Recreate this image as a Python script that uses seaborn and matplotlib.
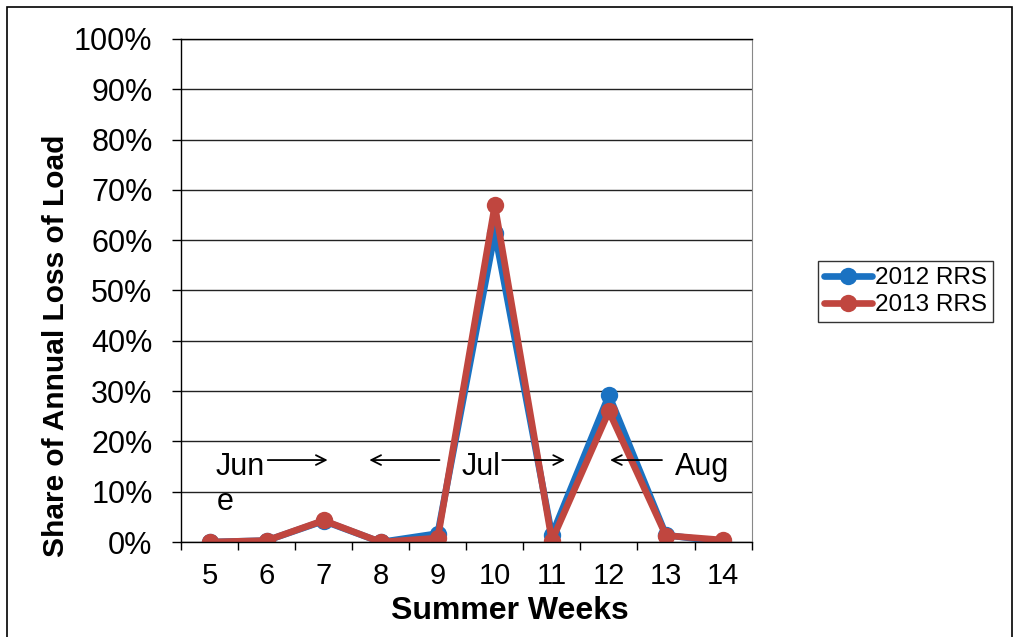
import pandas as pd
import matplotlib
matplotlib.use("Agg")
import matplotlib.pyplot as plt
import seaborn as sns

weeks = [5, 6, 7, 8, 9, 10, 11, 12, 13, 14]
rrs_2012 = [0.0, 0.3, 4.2, 0.0, 1.7, 61.5, 1.4, 29.2, 1.4, 0.0]
rrs_2013 = [0.0, 0.3, 4.3, 0.0, 0.8, 66.9, 0.3, 26.0, 1.3, 0.4]
series_names = ["2012 RRS", "2013 RRS"]
y_ticks = list(range(0, 101, 10))

df = pd.DataFrame({
    "week": weeks * 2,
    "share": rrs_2012 + rrs_2013,
    "series": [series_names[0]] * len(weeks) + [series_names[1]] * len(weeks),
})

sns.set_style("white")
plt.rcParams["font.family"] = ["Liberation Sans", "DejaVu Sans"]
plt.rcParams["text.color"] = "black"
plt.rcParams["axes.labelcolor"] = "black"
plt.rcParams["xtick.color"] = "black"
plt.rcParams["ytick.color"] = "black"

fig = plt.figure(figsize=(10.17, 6.37), dpi=100)
ax = fig.add_axes([0.178, 0.149, 0.561, 0.790])

palette = {"2012 RRS": "#1a72c2", "2013 RRS": "#c0463f"}
sns.lineplot(
    data=df, x="week", y="share", hue="series", palette=palette,
    marker="o", markersize=12.5, markeredgewidth=0, linewidth=4.8, ax=ax,
)

ax.set_xlim(4.5, 14.5)
ax.set_ylim(0, 100)
ax.set_xticks(weeks)
ax.set_xticklabels([str(w) for w in weeks])
ax.set_xticks([w - 0.5 for w in weeks] + [14.5], minor=True)
ax.set_yticks(y_ticks)
ax.set_yticklabels([f"{t}%" for t in y_ticks])
ax.tick_params(axis="x", which="major", length=0, pad=14, labelsize=21)
ax.tick_params(axis="x", which="minor", length=6, width=1, direction="out", color="black", bottom=True)
ax.tick_params(axis="y", length=6.5, width=1, direction="out", color="black", left=True, pad=14, labelsize=22)
ax.yaxis.grid(True, color="#222222", linewidth=1)
ax.set_axisbelow(True)
for side in ["left", "bottom", "top"]:
    ax.spines[side].set_color("black")
    ax.spines[side].set_linewidth(1)
ax.spines["right"].set_color("#888888")

ax.set_xlabel("Summer Weeks", fontsize=23, fontweight="bold")
ax.xaxis.set_label_coords(0.576, -0.108)
ax.set_ylabel("Share of Annual Loss of Load", fontsize=21.5, fontweight="bold")
ax.yaxis.set_label_coords(-0.195, 0.39)

# month markers
txt = dict(fontsize=22, color="black", va="center", ha="left")
ax.text(5.1, 15, "Jun", **txt)
ax.text(5.12, 8.0, "e", **txt)
ax.text(9.41, 15, "Jul", **txt)
ax.text(13.16, 15, "Aug", **txt)
arrow = dict(arrowstyle="->,head_length=0.7,head_width=0.35", color="black", lw=1.3, shrinkA=0, shrinkB=0)
ax.annotate("", xy=(7.07, 16.3), xytext=(6.02, 16.3), arrowprops=arrow)
ax.annotate("", xy=(7.8, 16.3), xytext=(9.03, 16.3), arrowprops=arrow)
ax.annotate("", xy=(11.23, 16.3), xytext=(10.13, 16.3), arrowprops=arrow)
ax.annotate("", xy=(12.02, 16.3), xytext=(12.93, 16.3), arrowprops=arrow)

leg = ax.legend(
    loc="center", bbox_to_anchor=(0.89, 0.542), bbox_transform=fig.transFigure,
    fontsize=17.5, frameon=True, fancybox=False, handlelength=2.0,
    handletextpad=0.1, borderpad=0.25, labelspacing=0.2, title=None,
)
leg.get_frame().set_edgecolor("black")
leg.get_frame().set_linewidth(1)

# outer frame of the chart area
fig.add_artist(plt.Rectangle((0.007, -0.01), 0.988, 0.999, transform=fig.transFigure,
                             fill=False, edgecolor="black", linewidth=1.2))

fig.savefig("out.png", dpi=100)
